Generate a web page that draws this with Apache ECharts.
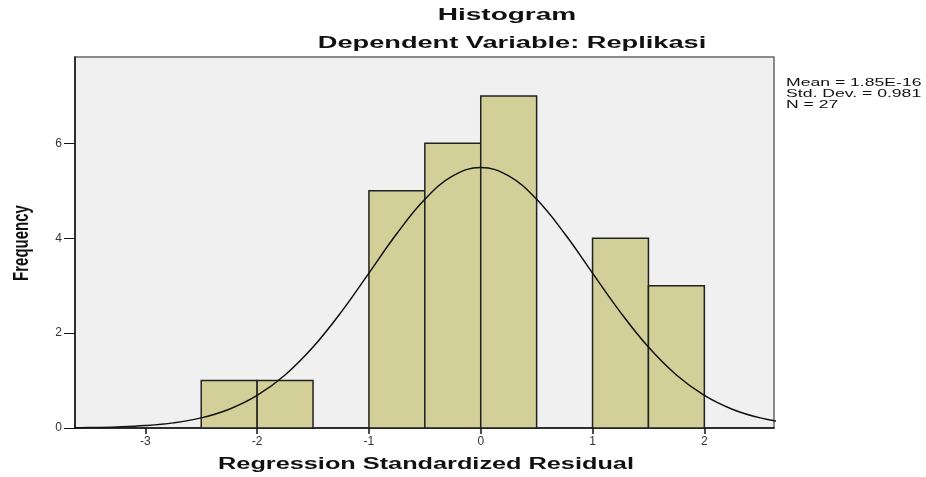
<!DOCTYPE html>
<html>
<head>
<meta charset="utf-8">
<script src="https://cdn.jsdelivr.net/npm/echarts@6/dist/echarts.min.js"></script>
<style>html,body{margin:0;padding:0;background:#fff}#c{width:926px;height:477px}</style>
</head>
<body>
<div id="c"></div>
<script>
// Histogram bins (lower edge, upper edge) and frequencies
const binStart = [-2.5, -2.0, -1.0, -0.5, 0.0, 1.0, 1.5];
const binEnd   = [-2.0, -1.5, -0.5, 0.0, 0.5, 1.5, 2.0];
const counts   = [1, 1, 5, 6, 7, 4, 3];
// Normal curve
const curveX = [-3.75,-3.5,-3.25,-3,-2.75,-2.5,-2.25,-2,-1.75,-1.5,-1.25,-1,-0.75,-0.5,-0.25,0,0.25,0.5,0.75,1,1.25,1.5,1.75,2,2.25,2.5,2.75];
const curveY = [0.004,0.01,0.023,0.051,0.108,0.213,0.396,0.687,1.118,1.706,2.438,3.265,4.099,4.821,5.314,5.49,5.314,4.821,4.099,3.265,2.438,1.706,1.118,0.687,0.396,0.213,0.108];
const xTicks = [-3, -2, -1, 0, 1, 2];
const yTicks = [0, 2, 4, 6];
const titleText = 'Histogram';
const subtitleText = 'Dependent Variable: Replikasi';
const xName = 'Regression Standardized Residual';
const yName = 'Frequency';
const statsLines = ['Mean = 1.85E-16', 'Std. Dev. = 0.981', 'N = 27'];

const chart = echarts.init(document.getElementById('c'), null, {renderer: 'canvas'});
const FONT = '"Liberation Sans", Arial, sans-serif';
const histData = binStart.map((s, i) => [s, binEnd[i], counts[i]]);
const lineData = curveX.map((x, i) => [x, curveY[i]]);

chart.setOption({
  animation: false,
  backgroundColor: '#ffffff',
  grid: {left: 75, right: 152, top: 57, bottom: 49, show: true,
         backgroundColor: '#f0f0f0', borderColor: '#666', borderWidth: 1.5},
  xAxis: {
    type: 'value', min: -3.629, max: 2.623,
    axisLine: {onZero: false, lineStyle: {color: '#111', width: 1.5}},
    axisTick: {show: true, length: 6, customValues: xTicks, lineStyle: {color: '#111', width: 1.5}},
    axisLabel: {customValues: xTicks, color: '#333', fontSize: 12, fontFamily: FONT, margin: 8},
    splitLine: {show: false}
  },
  yAxis: {
    type: 'value', min: 0, max: 7.82,
    axisLine: {show: true, onZero: false, lineStyle: {color: '#111', width: 1.5}},
    axisTick: {show: true, length: 11, customValues: yTicks, lineStyle: {color: '#111', width: 1}},
    axisLabel: {customValues: yTicks, color: '#333', fontSize: 12, fontFamily: FONT, margin: 13},
    splitLine: {show: false}
  },
  series: [
    {
      type: 'custom', data: histData, encode: {x: [0, 1], y: 2}, z: 2,
      renderItem: function (params, api) {
        const p0 = api.coord([api.value(0), 0]);
        const p1 = api.coord([api.value(1), api.value(2)]);
        return {type: 'rect',
          shape: {x: p0[0], y: p1[1], width: p1[0] - p0[0], height: p0[1] - p1[1]},
          style: {fill: '#d3cf98', stroke: '#222', lineWidth: 1.5}};
      }
    },
    {
      type: 'line', data: lineData, smooth: 0.4, symbol: 'none', z: 3, clip: true,
      lineStyle: {color: '#111', width: 1.5}
    }
  ],
  graphic: [
    {type: 'text', x: 507, y: 16, scaleX: 1.75, z: 10,
     style: {text: titleText, font: 'bold 16px ' + FONT, fill: '#111', textAlign: 'center', textVerticalAlign: 'middle'}},
    {type: 'text', x: 512, y: 44, scaleX: 1.7, z: 10,
     style: {text: subtitleText, font: 'bold 16px ' + FONT, fill: '#111', textAlign: 'center', textVerticalAlign: 'middle'}},
    {type: 'text', x: 426, y: 465, scaleX: 1.58, z: 10,
     style: {text: xName, font: 'bold 16px ' + FONT, fill: '#111', textAlign: 'center', textVerticalAlign: 'middle'}},
    {type: 'text', x: 22, y: 243, rotation: Math.PI / 2, scaleY: 1.5, z: 10,
     style: {text: yName, font: 'bold 15px ' + FONT, fill: '#111', textAlign: 'center', textVerticalAlign: 'middle'}},
    {type: 'text', x: 786, y: 77, scaleX: 1.6, z: 10,
     style: {text: statsLines.join('\n'), font: '11px ' + FONT, lineHeight: 11, fill: '#111', textAlign: 'left', textVerticalAlign: 'top'}}
  ]
});
</script>
</body>
</html>
